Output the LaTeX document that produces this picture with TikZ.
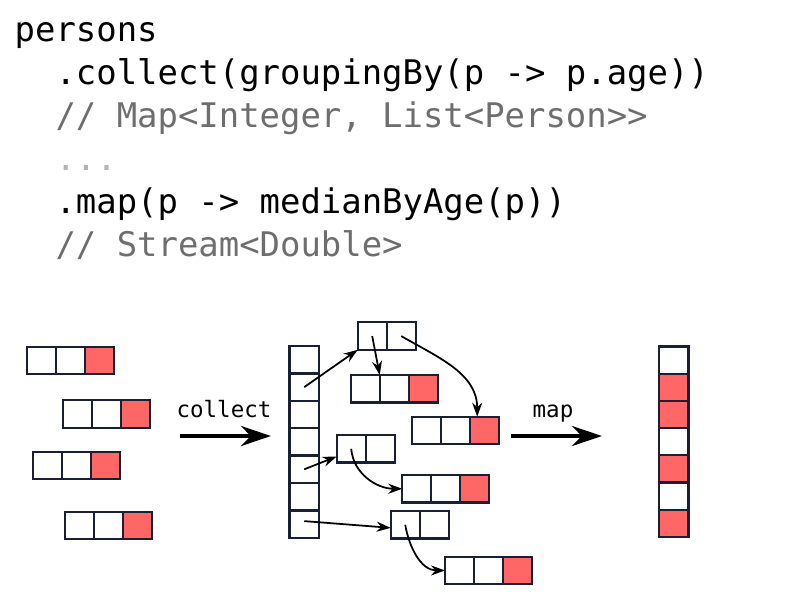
\documentclass[tikz,border=0pt]{standalone}
\usepackage{fontspec}
\setmonofont{DejaVu Sans Mono}
\usetikzlibrary{arrows.meta, positioning}
\definecolor{cellborder}{RGB}{26,32,52}
\definecolor{cellred}{RGB}{255,102,102}
\definecolor{comment}{RGB}{110,110,110}
\definecolor{ellipsis}{RGB}{180,180,180}

\tikzset{
  cell/.style={draw=cellborder, line width=0.65pt, fill=white, minimum width=0.29cm,
               minimum height=0.275cm, inner sep=0pt, outer sep=0pt},
  codeline/.style={anchor=base west, inner sep=0pt, font=\fontsize{9.65}{11}\selectfont\ttfamily},
  link/.style={->, line width=0.5pt},
  bigarrow/.style={-{Stealth[length=3mm, width=2mm]}, line width=1.3pt},
  oplabel/.style={anchor=base, inner sep=0pt, font=\fontsize{6.4}{8}\selectfont\ttfamily},
}

\begin{document}
\begin{tikzpicture}[>={Stealth[length=1.4mm, width=1mm]}]
\useasboundingbox (0,0) rectangle (8,-6);

% Code
\node[codeline] (code1) at (0.14,-0.41) {persons};
\node[codeline] (code2) at (0.548,-0.845) {.collect(groupingBy(p -> p.age))};
\node[codeline, text=comment] (code3) at (0.548,-1.27) {// Map<Integer, List<Person>>};
\node[codeline, text=ellipsis] (code4) at (0.548,-1.70) {...};
\node[codeline] (code5) at (0.548,-2.13) {.map(p -> medianByAge(p))};
\node[codeline, text=comment] (code6) at (0.548,-2.56) {// Stream<Double>};

% Persons
\foreach \b/\x/\y in {1/0.267/-3.467, 2/0.633/-4.003, 3/0.333/-4.517, 4/0.650/-5.117}
  \foreach \i/\f in {1/white, 2/white, 3/cellred}
    \node[cell, fill=\f] (in\b-\i) at ({\x+0.29*\i-0.145}, {\y-0.1375}) {};

% Map by age
\foreach \i in {1,...,7}
  \node[cell, minimum width=0.295cm, minimum height=0.274cm] (grp\i) at (3.0425, {-3.46-0.274*\i+0.137}) {};

% Keys
\foreach \b/\x/\y in {A/3.577/-3.223, D/3.367/-4.35, F/3.907/-5.11}
  \foreach \i in {1,2}
    \node[cell] (bk\b-\i) at ({\x+0.29*\i-0.145}, {\y-0.1375}) {};

% Lists of persons
\foreach \b/\x/\y in {B/3.507/-3.75, C/4.117/-4.167, E/4.023/-4.75, G/4.45/-5.567}
  \foreach \i/\f in {1/white, 2/white, 3/cellred}
    \node[cell, fill=\f] (bk\b-\i) at ({\x+0.29*\i-0.145}, {\y-0.1375}) {};

% Medians
\foreach \i/\f in {1/white, 2/cellred, 3/cellred, 4/white, 5/cellred, 6/white, 7/cellred}
  \node[cell, fill=\f, minimum width=0.295cm, minimum height=0.272cm] (res\i) at (6.7375, {-3.465-0.272*\i+0.136}) {};

% Links
\draw[link] (grp2.center) -- (bkA-1.south west);
\draw[link] (bkA-1.center) -- (bkB-1.north east);
\draw[link] (bkA-2.center) to[out=-30, in=90] ([xshift=-0.07cm]bkC-3.north);
\draw[link] (grp5.center) -- (bkD-1.208);
\draw[link] (bkD-1.center) to[out=-85, in=180] (bkE-1.west);
\draw[link] ([yshift=0.03cm]grp7.center) -- (bkF-1.192);
\draw[link] (bkF-1.center) to[out=-80, in=180] (bkG-1.west);

% Operations
\coordinate (collectStart) at (1.80,-4.36);
\coordinate (collectEnd) at (2.71,-4.36);
\draw[bigarrow] (collectStart) -- (collectEnd);
\node[oplabel] (collectLabel) at (2.24,-4.17) {collect};

\coordinate (mapStart) at (5.11,-4.36);
\coordinate (mapEnd) at (6.02,-4.36);
\draw[bigarrow] (mapStart) -- (mapEnd);
\node[oplabel] (mapLabel) at (5.53,-4.17) {map};

\end{tikzpicture}
\end{document}
